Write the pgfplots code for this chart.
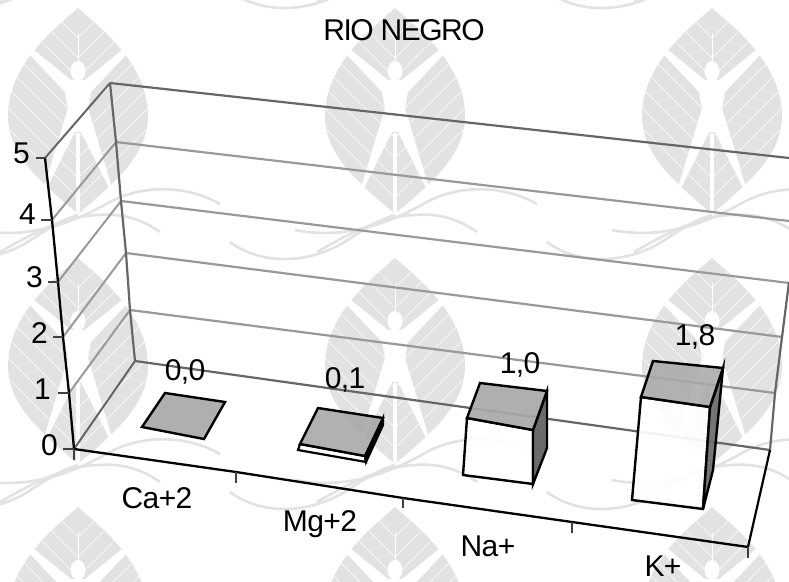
\documentclass[border=0pt]{standalone}
\usepackage{pgfplots}
\usepackage{fontspec}
\setmainfont{Liberation Sans}
\pgfplotsset{compat=1.18}
\definecolor{wm}{gray}{0.885}
\definecolor{gridA}{gray}{0.60}
\definecolor{gridB}{gray}{0.40}
\definecolor{topc}{gray}{0.66}
\definecolor{sidec}{gray}{0.42}
\newcommand{\chartfont}{\fontsize{30}{32}\selectfont\addfontfeatures{LetterSpace=-2}}
\newcommand{\titlefont}{\fontsize{30}{32}\selectfont\addfontfeatures{LetterSpace=-5}}
\newcommand{\leafat}[2]{%
\begin{scope}[shift={(#1,#2)}]
  \begin{scope}
    \clip (0,0) .. controls (-20,18) and (-70,55) .. (-70,108) .. controls (-70,150) and (-30,180) .. (0,206)
          .. controls (30,180) and (70,150) .. (70,108) .. controls (70,55) and (20,18) .. (0,0) -- cycle;
    \fill[wm] (-80,-5) rectangle (80,210);
    \foreach \s in {30,50,...,210} {
      \draw[white,line width=.45pt] (0,\s) -- (-85,\s-85);
      \draw[white,line width=.45pt] (0,\s) -- (85,\s-85);
    }
    \draw[white,line width=3.5pt] (0,125) -- (0,206);
    \draw[white,line width=.8pt] (0,25) -- (0,60);
  \end{scope}
  \fill[white] (-48,47) -- (-44,42) -- (-7,72) -- (7,72) -- (44,42) -- (48,47) -- (13,84) -- (10,100)
     -- (35,183) -- (33,184) -- (3,124) -- (-3,124) -- (-33,184) -- (-35,183) -- (-10,100) -- (-13,84) -- cycle;
  \fill[white] (0,63) ellipse (7.5 and 10);
  \draw[wm,line width=2.6pt] (-100,222) .. controls (-50,232) and (-5,215) .. (30,195) .. controls (60,178) and (105,175) .. (142,196);
  \draw[wm,line width=2.6pt] (-78,244) .. controls (-40,222) and (-10,208) .. (20,207) .. controls (45,205) and (65,212) .. (82,224);
  \draw[wm,line width=2.6pt] (152,234) .. controls (180,255) and (225,258) .. (265,235) .. controls (285,222) and (300,212) .. (317,207);
\end{scope}}
\begin{document}
\begin{tikzpicture}[x=1pt,y=1pt]
\path[use as bounding box] (0,0) rectangle (789,581);
\begin{scope}
  \clip (0,0) rectangle (789,581);
  \begin{scope}[y=-1pt,shift={(0,-581)}]
    \leafat{78}{8}\leafat{395}{8}\leafat{712}{8}
    \leafat{78}{258}\leafat{395}{258}\leafat{712}{258}
    \leafat{78}{507}\leafat{395}{507}\leafat{712}{507}
    \leafat{-239}{8}\leafat{-239}{258}\leafat{-239}{-243}\leafat{78}{-243}\leafat{395}{-243}\leafat{712}{-243}
  \end{scope}
\end{scope}
\begin{axis}[at={(0,0)},anchor=south west,scale only axis,width=789pt,height=581pt,
  xmin=0,xmax=789,ymin=0,ymax=581,y dir=reverse,hide axis,clip=true,
  every axis plot/.append style={line join=miter}]
% back wall grid
\addplot[line width=2.2pt,color=gridA] coordinates {(130,310)(775,393)};
\addplot[line width=2.2pt,color=gridA] coordinates {(126,253)(782,337)};
\addplot[line width=2.2pt,color=gridA] coordinates {(121,201)(789,283)};
\addplot[line width=2.2pt,color=gridA] coordinates {(116,142)(789,221)};
\addplot[line width=2.2pt,color=gridB] coordinates {(110,83)(789,158)};
\addplot[line width=2.2pt,color=gridB] coordinates {(135,361)(770,450)};
% side wall grid
\addplot[line width=2pt,color=gridA] coordinates {(69,393)(130,310)};
\addplot[line width=2pt,color=gridA] coordinates {(63,337)(126,253)};
\addplot[line width=2pt,color=gridA] coordinates {(58,282)(121,201)};
\addplot[line width=2pt,color=gridA] coordinates {(52,220)(116,142)};
\addplot[line width=2pt,color=gridB] coordinates {(45,158)(110,83)};
\addplot[line width=2pt,color=gridB] coordinates {(74,449)(135,361)};
% back corners
\addplot[line width=2.2pt,color=gridB] coordinates {(110,83)(116,142)(121,201)(126,253)(130,310)(135,361)};
\addplot[line width=2.2pt,color=gridB] coordinates {(770,450)(775,393)(782,337)(789,282)};
% floor right edge
\addplot[line width=2.2pt,color=black] coordinates {(770,450)(748,547)};
% front axes
\addplot[line width=2.3pt,color=black] coordinates {(45,158)(52,220)(58,282)(63,337)(69,393)(74,449)};
\addplot[line width=2.3pt,color=black] coordinates {(74,449)(236,472)(403,498)(572,522)(748,547)};
\addplot[line width=1.6pt,color=black!75] coordinates {(36,158)(45,158)};
\addplot[line width=1.6pt,color=black!75] coordinates {(41,220)(52,220)};
\addplot[line width=1.6pt,color=black!75] coordinates {(48,282)(58,282)};
\addplot[line width=1.6pt,color=black!75] coordinates {(53,337)(63,337)};
\addplot[line width=1.6pt,color=black!75] coordinates {(58,393)(69,393)};
\addplot[line width=1.6pt,color=black!75] coordinates {(63,449)(74,449)};
\addplot[line width=1.6pt,color=black!75] coordinates {(74,449)(74,460)};
\addplot[line width=1.6pt,color=black!75] coordinates {(236,472)(236,483)};
\addplot[line width=1.6pt,color=black!75] coordinates {(403,498)(403,508)};
\addplot[line width=1.6pt,color=black!75] coordinates {(572,522)(572,533)};
\addplot[line width=1.6pt,color=black!75] coordinates {(748,547)(748,558)};
% Ca+2 = 0,0
\addplot[draw=black,line width=2.4pt,fill=topc,fill opacity=.92] coordinates {(142,427)(165,393)(225,402)(204,439)} -- cycle;
% Mg+2 = 0,1
\addplot[draw=black,line width=2.2pt,fill=white] coordinates {(300,444)(298,450)(366,462)(365,456)} -- cycle;
\addplot[draw=black,line width=2.2pt,fill=black] coordinates {(365,456)(366,462)(383,425)(383,418)} -- cycle;
\addplot[draw=black,line width=2.4pt,fill=topc,fill opacity=.9] coordinates {(300,444)(318,408)(383,418)(365,456)} -- cycle;
% Na+ = 1,0
\addplot[draw=black,line width=2.4pt,fill=white,fill opacity=.92] coordinates {(467,418)(533,430)(533,484)(463,475)} -- cycle;
\addplot[draw=black,line width=2.4pt,fill=sidec] coordinates {(533,430)(547,391)(547,448)(533,484)} -- cycle;
\addplot[draw=black,line width=2.4pt,fill=topc,fill opacity=.92] coordinates {(467,418)(480,383)(547,391)(533,430)} -- cycle;
% K+ = 1,8
\addplot[draw=black,line width=2.4pt,fill=white,fill opacity=.92] coordinates {(641,397)(710,407)(703,509)(632,500)} -- cycle;
\addplot[draw=black,line width=2.4pt,fill=sidec,fill opacity=.92] coordinates {(710,407)(723,368)(713,470)(703,509)} -- cycle;
\addplot[draw=black,line width=2.4pt,fill=topc,fill opacity=.85] coordinates {(641,397)(653,361)(723,368)(710,407)} -- cycle;
% bar values
\addplot[only marks,mark=none,point meta=explicit symbolic,
  nodes near coords,nodes near coords style={anchor=base,inner sep=0pt,font=\chartfont,text=black}]
  table[x=x,y=y,meta=label] {
x y label
185 380 0,0
345 388 0,1
520 373 1,0
695 345 1,8
};
\node[anchor=base,inner sep=0pt,font=\titlefont] at (axis cs:404,40) {RIO NEGRO};
\node[anchor=base,inner sep=0pt,font=\chartfont] at (axis cs:157,508) {Ca+2};
\node[anchor=base,inner sep=0pt,font=\chartfont] at (axis cs:320,531) {Mg+2};
\node[anchor=base,inner sep=0pt,font=\chartfont] at (axis cs:488,556) {Na+};
\node[anchor=base,inner sep=0pt,font=\chartfont] at (axis cs:663,576) {K+};
\node[anchor=base east,inner sep=0pt,font=\chartfont] at (axis cs:30,163) {5};
\node[anchor=base east,inner sep=0pt,font=\chartfont] at (axis cs:36,224) {4};
\node[anchor=base east,inner sep=0pt,font=\chartfont] at (axis cs:43,287) {3};
\node[anchor=base east,inner sep=0pt,font=\chartfont] at (axis cs:48,343) {2};
\node[anchor=base east,inner sep=0pt,font=\chartfont] at (axis cs:51,399) {1};
\node[anchor=base east,inner sep=0pt,font=\chartfont] at (axis cs:58,455) {0};
\end{axis}
\end{tikzpicture}
\end{document}
